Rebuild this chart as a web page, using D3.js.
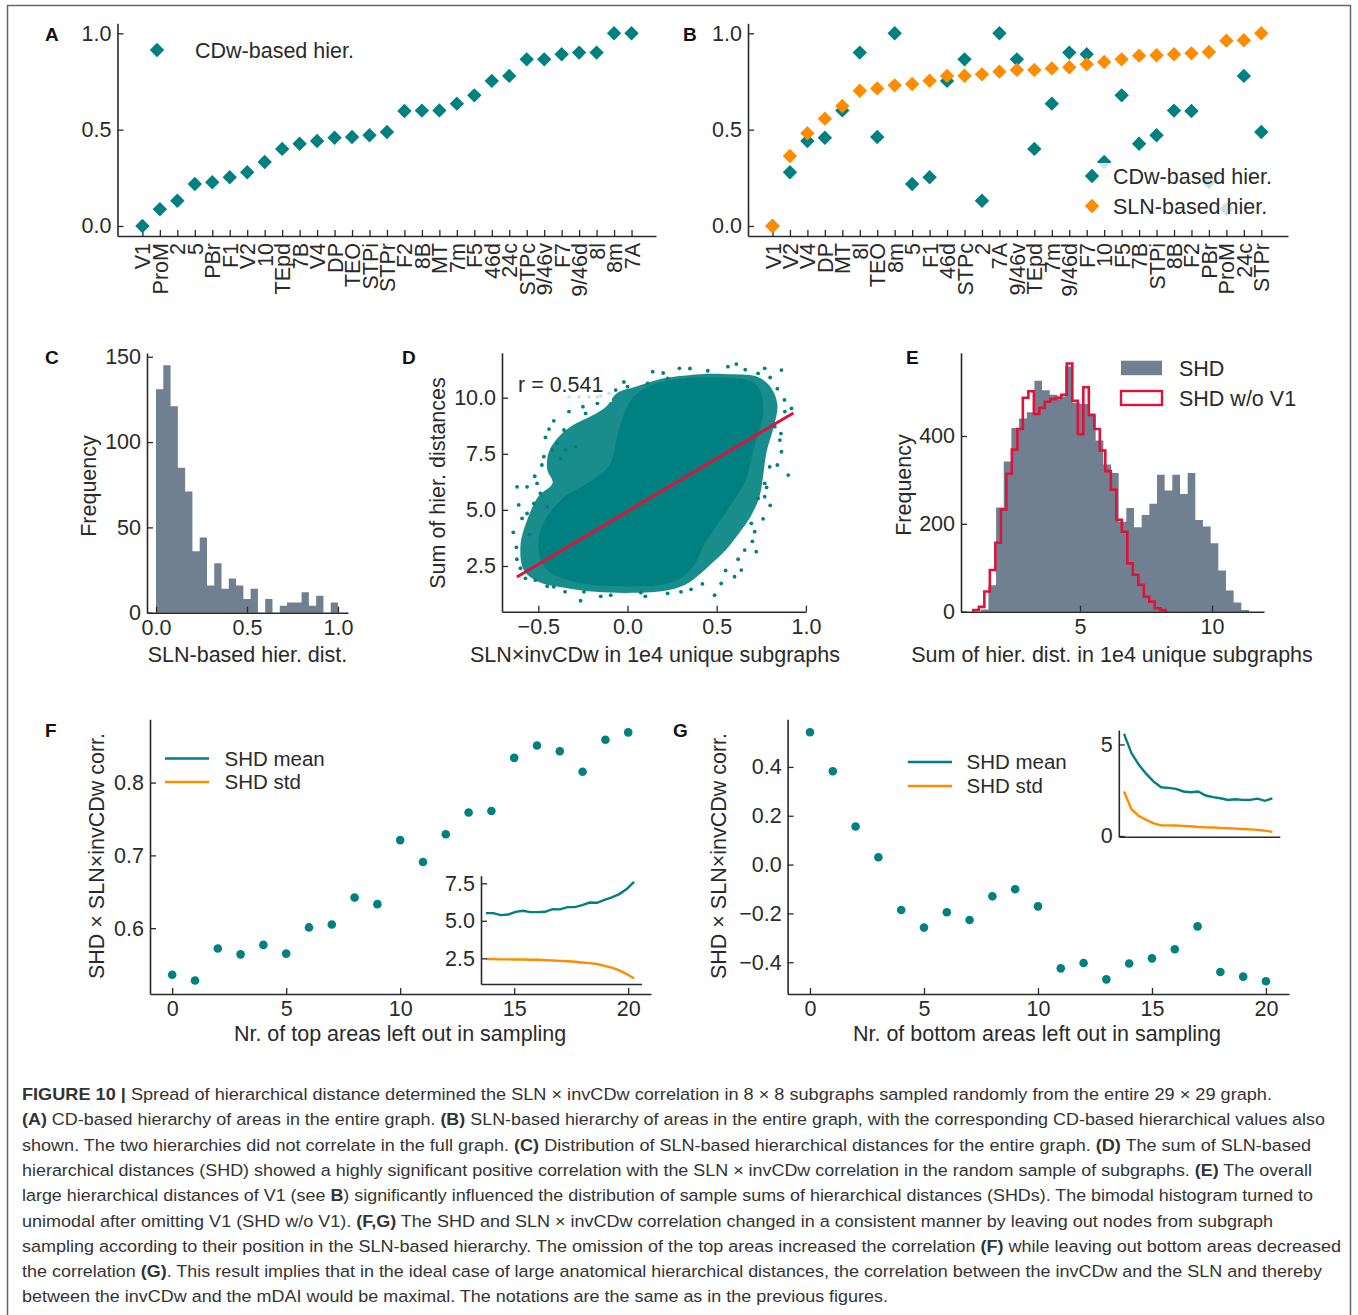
<!DOCTYPE html>
<html>
<head>
<meta charset="utf-8">
<script src="https://cdn.jsdelivr.net/npm/d3@7"></script>
<style>
  body { margin: 0; background: #fff; }
  svg { display: block; }
</style>
</head>
<body>
<div id="fig"></div>
<script>
// ---------- data ----------
// A: CD-based hierarchy, areas sorted
const areasA = ["V1","ProM","2","5","PBr","F1","V2","10","TEpd","7B","V4","DP","TEO","STPi","STPr",
  "F2","8B","MT","7m","F5","46d","24c","STPc","9/46v","F7","9/46d","8l","8m","7A"];
const cdwHier = [0, 0.087, 0.131, 0.218, 0.227, 0.253, 0.279, 0.332, 0.400, 0.427, 0.441, 0.458, 0.462,
  0.471, 0.488, 0.597, 0.599, 0.600, 0.635, 0.678, 0.753, 0.779, 0.865, 0.865, 0.891, 0.900, 0.900, 1.0, 1.0];

// B: SLN-based hierarchy, areas sorted by it
const areasB = ["V1","V2","V4","DP","MT","8l","TEO","8m","5","F1","46d","STPc","2","7A","9/46v","TEpd",
  "7m","9/46d","F7","10","F5","7B","STPi","8B","F2","PBr","ProM","24c","STPr"];
const slnHier = [0, 0.363, 0.481, 0.557, 0.623, 0.702, 0.714, 0.730, 0.737, 0.754, 0.779, 0.780, 0.787,
  0.801, 0.810, 0.810, 0.818, 0.824, 0.839, 0.851, 0.865, 0.884, 0.886, 0.891, 0.896, 0.903, 0.962, 0.964, 1.0];

// C: histogram of SLN-based distances (25 bins)
const slnDistRange = [0, 1.0];
const slnDistCounts = [131, 145, 121, 85, 71, 36, 44, 16, 29, 14, 20, 16, 8, 14, 0, 8, 0, 4, 6, 6, 12, 4, 10, 0, 6];

// D: 1e4 points -> outline of the cloud, its dense core, and the loose points around it
const cloudOuter = [[-0.60,3.4],[-0.58,2.3],[-0.50,1.8],[-0.33,1.5],[-0.18,1.35],[0.0,1.3],[0.2,1.38],
  [0.32,1.65],[0.40,2.1],[0.47,2.6],[0.55,3.2],[0.62,3.9],[0.69,4.7],[0.74,5.6],[0.76,6.5],[0.78,7.6],
  [0.82,8.7],[0.84,9.7],[0.80,10.5],[0.72,10.95],[0.56,11.05],[0.41,11.05],[0.28,10.95],[0.17,10.8],
  [0.05,10.5],[-0.06,10.2],[-0.12,9.6],[-0.2,9.2],[-0.3,8.8],[-0.38,8.3],[-0.44,7.6],[-0.45,6.8],
  [-0.42,6.2],[-0.5,5.6],[-0.56,4.6]];
const cloudCore = [[-0.50,3.6],[-0.46,2.4],[-0.30,1.8],[0.0,1.6],[0.24,1.75],[0.36,2.4],[0.44,3.6],
  [0.56,5.0],[0.66,6.3],[0.71,7.8],[0.76,9.4],[0.72,10.6],[0.45,10.9],[0.15,10.6],[0.02,9.9],[-0.05,8.5],
  [-0.1,7.0],[-0.22,6.2],[-0.35,5.6],[-0.45,4.7]];
const cloudLoose = [[0.141,11.16],[0.610,11.50],[0.563,11.38],[0.769,11.31],[0.863,11.23],[0.732,11.08],
  [0.291,11.31],[0.225,10.86],[0.113,10.64],[0.0,10.49],[-0.066,10.34],[-0.169,10.04],[-0.169,9.75],
  [-0.235,9.30],[-0.328,9.38],[-0.413,8.97],[-0.356,8.56],[-0.460,8.23],[-0.394,7.96],[-0.347,7.67],
  [-0.469,7.37],[-0.375,7.30],[-0.291,7.82],[-0.422,7.67],[-0.507,6.18],[-0.563,6.03],[-0.619,6.03],
  [-0.610,5.22],[-0.563,4.84],[-0.591,4.62],[-0.488,5.74],[-0.450,5.14],[-0.525,5.29],[-0.623,3.33],
  [-0.572,1.95],[-0.516,1.87],[-0.413,1.57],[-0.263,0.95],[-0.244,1.35],[-0.094,1.20],[0.075,1.31],
  [0.225,1.28],[0.356,1.46],[0.488,1.20],[0.525,1.72],[0.600,2.02],[0.638,2.32],[0.722,3.14],[0.657,3.21],
  [0.713,4.03],[0.694,4.40],[0.732,5.51],[0.769,6.18],[0.797,6.92],[0.863,7.59],[0.901,6.55],[0.854,8.11],
  [0.919,9.52],[0.882,9.38],[0.826,8.71],[0.769,5.59],[-0.328,10.04],[-0.272,10.04],[-0.216,10.04],
  [-0.150,10.07],[-0.103,10.19],[-0.45,1.6],[-0.35,1.35],[-0.15,1.15],[0.1,1.15],[0.3,1.35],[0.42,1.7],
  [0.55,2.3],[0.62,2.8],[0.7,3.6],[0.76,4.6],[0.8,5.2],[0.78,6.0],[0.84,7.0],[0.86,8.4],[0.88,9.9],
  [0.84,10.4],[0.8,10.9],[0.66,11.25],[0.45,11.2],[0.35,11.3],[0.2,11.1],[-0.02,10.7],[-0.62,2.8],
  [-0.64,4.0],[-0.55,3.9],[-0.6,2.4],[-0.52,6.5],[-0.48,7.0],[-0.44,8.6],[-0.25,9.6]];
const fitX = [-0.62, 0.93];
const fitY = [2.01, 9.32];
const corrLabel = "r = 0.541";

// E: histograms of summed distances (35 bins each)
const shdRange = [1.24, 11.40];
const shdCounts = [5, 60, 237, 342, 418, 440, 454, 526, 504, 494, 490, 558, 475, 473, 448, 390, 335, 316,
  205, 236, 192, 220, 246, 312, 276, 312, 268, 316, 209, 194, 156, 94, 48, 21, 4];
const shdNoV1Range = [0.96, 8.25];
const shdNoV1Counts = [4, 11, 46, 95, 157, 233, 314, 369, 416, 487, 502, 450, 464, 478, 484, 487, 494, 565,
  480, 404, 511, 448, 416, 367, 320, 278, 209, 182, 110, 84, 61, 34, 23, 8, 4];

// F, G: number of areas left out
const leftOut = [0,1,2,3,4,5,6,7,8,9,10,11,12,13,14,15,16,17,18,19,20];
const corrTop = [0.536, 0.528, 0.572, 0.564, 0.577, 0.565, 0.601, 0.605, 0.642, 0.633, 0.721, 0.691, 0.729,
  0.759, 0.761, 0.834, 0.851, 0.843, 0.815, 0.859, 0.869];
const meanTop = [5.51, 5.51, 5.38, 5.42, 5.60, 5.67, 5.58, 5.58, 5.60, 5.78, 5.76, 5.91, 5.91, 6.05, 6.22,
  6.20, 6.40, 6.56, 6.78, 7.12, 7.60];
const stdTop = [2.45, 2.45, 2.43, 2.43, 2.42, 2.42, 2.40, 2.40, 2.38, 2.35, 2.33, 2.30, 2.27, 2.22, 2.18,
  2.12, 2.00, 1.88, 1.70, 1.45, 1.15];
const corrBottom = [0.542, 0.382, 0.156, 0.030, -0.186, -0.258, -0.195, -0.227, -0.130, -0.101, -0.171,
  -0.425, -0.403, -0.470, -0.405, -0.384, -0.347, -0.253, -0.440, -0.459, -0.478];
const meanBottom = [5.58, 4.53, 3.89, 3.39, 2.97, 2.66, 2.63, 2.57, 2.43, 2.39, 2.43, 2.21, 2.12, 2.06, 1.97,
  2.01, 1.97, 1.97, 2.04, 1.92, 2.06];
const stdBottom = [2.43, 1.46, 1.09, 0.88, 0.69, 0.58, 0.58, 0.57, 0.55, 0.53, 0.49, 0.47, 0.46, 0.44, 0.42,
  0.40, 0.38, 0.36, 0.33, 0.29, 0.22];

// tick labels
const hierTicks = [0, 0.5, 1.0];
const cxTicks = [0, 0.5, 1.0], cyTicks = [0, 50, 100, 150];
const dxTicks = [-0.5, 0, 0.5, 1.0], dyTicks = [2.5, 5.0, 7.5, 10.0];
const exTicks = [5, 10], eyTicks = [0, 200, 400];
const nTicks = [0, 5, 10, 15, 20];
const fyTicks = [0.6, 0.7, 0.8], fInsetTicks = [2.5, 5.0, 7.5];
const gyTicks = [-0.4, -0.2, 0.0, 0.2, 0.4], gInsetTicks = [0, 5];

// caption
const captionLines = [
  [["FIGURE 10 |", 1], [" Spread of hierarchical distance determined the SLN × invCDw correlation in 8 × 8 subgraphs sampled randomly from the entire 29 × 29 graph.", 0]],
  [["(A)", 1], [" CD-based hierarchy of areas in the entire graph. ", 0], ["(B)", 1], [" SLN-based hierarchy of areas in the entire graph, with the corresponding CD-based hierarchical values also", 0]],
  [["shown. The two hierarchies did not correlate in the full graph. ", 0], ["(C)", 1], [" Distribution of SLN-based hierarchical distances for the entire graph. ", 0], ["(D)", 1], [" The sum of SLN-based", 0]],
  [["hierarchical distances (SHD) showed a highly significant positive correlation with the SLN × invCDw correlation in the random sample of subgraphs. ", 0], ["(E)", 1], [" The overall", 0]],
  [["large hierarchical distances of V1 (see ", 0], ["B", 1], [") significantly influenced the distribution of sample sums of hierarchical distances (SHDs). The bimodal histogram turned to", 0]],
  [["unimodal after omitting V1 (SHD w/o V1). ", 0], ["(F,G)", 1], [" The SHD and SLN × invCDw correlation changed in a consistent manner by leaving out nodes from subgraph", 0]],
  [["sampling according to their position in the SLN-based hierarchy. The omission of the top areas increased the correlation ", 0], ["(F)", 1], [" while leaving out bottom areas decreased", 0]],
  [["the correlation ", 0], ["(G)", 1], [". This result implies that in the ideal case of large anatomical hierarchical distances, the correlation between the invCDw and the SLN and thereby", 0]],
  [["between the invCDw and the mDAI would be maximal. The notations are the same as in the previous figures.", 0]]
];

// ---------- layout / style ----------
const FONT = "'Liberation Sans', Arial, Helvetica, sans-serif";
const TEAL = "#008080", ORANGE = "#ff8c00", SLATE = "#708090", CRIMSON = "#dc143c", INK = "#2a2a2a";
const FS = 21.5;
const captionWidths = [1250, 1303, 1289, 1290, 1291, 1251, 1319, 1300, 866];

const svg = d3.select("#fig").append("svg")
  .attr("width", 1358).attr("height", 1315)
  .attr("font-family", FONT);

svg.append("rect").attr("width", 1358).attr("height", 1315).attr("fill", "#fff");
svg.append("rect").attr("x", 7.5).attr("y", 5.5).attr("width", 1343).attr("height", 1330)
  .attr("fill", "none").attr("stroke", "#666").attr("stroke-width", 1.5);

function panel(box, xd, yd) {
  return {
    box,
    x: d3.scaleLinear().domain(xd).range([box.l, box.r]),
    y: d3.scaleLinear().domain(yd).range([box.b, box.t]),
  };
}

function styleAxis(g) {
  g.attr("font-family", FONT).attr("font-size", FS);
  g.select(".domain").attr("stroke", INK).attr("stroke-width", 1.6);
  g.selectAll(".tick line").attr("stroke", INK).attr("stroke-width", 1.3);
  g.selectAll(".tick text").attr("fill", INK);
  return g;
}

function xAxis(p, ticks, fmt) {
  const ax = d3.axisBottom(p.x).tickValues(ticks).tickSizeInner(-6).tickSizeOuter(0).tickPadding(7);
  if (fmt) ax.tickFormat(fmt);
  return styleAxis(svg.append("g").attr("transform", `translate(0,${p.box.b})`).call(ax));
}

function yAxis(p, ticks, fmt) {
  const ax = d3.axisLeft(p.y).tickValues(ticks).tickSizeInner(-6).tickSizeOuter(0).tickPadding(6);
  if (fmt) ax.tickFormat(fmt);
  return styleAxis(svg.append("g").attr("transform", `translate(${p.box.l},0)`).call(ax));
}

function panelLabel(x, y, s) {
  svg.append("text").attr("x", x).attr("y", y).attr("font-weight", "bold")
    .attr("font-size", 19).attr("fill", "#111").text(s);
}

function xLabel(cx, y, s) {
  svg.append("text").attr("x", cx).attr("y", y).attr("text-anchor", "middle")
    .attr("font-size", FS).attr("fill", INK).text(s);
}

function yLabel(cx, cy, s) {
  svg.append("text").attr("transform", `translate(${cx},${cy}) rotate(-90)`)
    .attr("dy", "0.35em").attr("text-anchor", "middle")
    .attr("font-size", FS).attr("fill", INK).text(s);
}

const diamond = (r) => `M0,${-r}L${r},0L0,${r}L${-r},0Z`;
const f1 = d3.format(".1f");
const fInt = d3.format("d");

// step path for a histogram: filled (closed) or outline
function histPath(p, range, counts) {
  const w = (range[1] - range[0]) / counts.length;
  let d = `M${p.x(range[0])},${p.y(0)}`;
  counts.forEach((c, i) => {
    d += `V${p.y(c)}H${p.x(range[0] + (i + 1) * w)}`;
  });
  return d + `V${p.y(0)}`;
}

// ---------- A ----------
const pA = panel({ l: 117.5, r: 656, t: 23.3, b: 236 }, [-1.425, 29.4], [-0.052, 1.052]);
function categoryAxis(p, names) {
  const g = xAxis(p, d3.range(names.length), (i) => names[i]);
  g.selectAll(".tick text")
    .attr("x", 0).attr("y", 0).attr("dy", "0.35em")
    .attr("transform", "translate(0,7) rotate(-90)")
    .attr("text-anchor", "end");
}
categoryAxis(pA, areasA);
yAxis(pA, hierTicks, f1);

svg.append("g").selectAll("path").data(cdwHier).join("path")
  .attr("d", diamond(7.2))
  .attr("transform", (d, i) => `translate(${pA.x(i)},${pA.y(d)})`)
  .attr("fill", TEAL);

svg.append("path").attr("d", diamond(7.2)).attr("transform", "translate(157,50)").attr("fill", TEAL);
svg.append("text").attr("x", 195).attr("y", 50).attr("dy", "0.35em")
  .attr("font-size", FS).attr("fill", INK).text("CDw-based hier.");
panelLabel(45, 41, "A");

// ---------- B ----------
const pB = panel({ l: 748, r: 1288, t: 23.3, b: 236 }, [-1.403, 29.53], [-0.052, 1.052]);
categoryAxis(pB, areasB);
yAxis(pB, hierTicks, f1);

const cdwByArea = new Map(areasA.map((a, i) => [a, cdwHier[i]]));
svg.append("g").selectAll("path").data(areasB).join("path")
  .attr("d", diamond(7.2))
  .attr("transform", (a, i) => `translate(${pB.x(i)},${pB.y(cdwByArea.get(a))})`)
  .attr("fill", TEAL);
svg.append("g").selectAll("path").data(slnHier).join("path")
  .attr("d", diamond(7.2))
  .attr("transform", (d, i) => `translate(${pB.x(i)},${pB.y(d)})`)
  .attr("fill", ORANGE);

// legend (semi-transparent box like the original)
svg.append("rect").attr("x", 1080).attr("y", 163).attr("width", 196).attr("height", 58)
  .attr("fill", "#fff").attr("opacity", 0.8);
[["CDw-based hier.", TEAL, 176], ["SLN-based hier.", ORANGE, 206]].forEach(([s, c, y]) => {
  svg.append("path").attr("d", diamond(7.2)).attr("transform", `translate(1092,${y})`).attr("fill", c);
  svg.append("text").attr("x", 1113).attr("y", y).attr("dy", "0.35em")
    .attr("font-size", FS).attr("fill", INK).text(s);
});
panelLabel(683, 41, "B");

// ---------- C ----------
const pC = panel({ l: 147, r: 348, t: 353, b: 612.7 }, [-0.0495, 1.055], [0, 152.2]);
svg.append("path").attr("d", histPath(pC, slnDistRange, slnDistCounts) + "Z").attr("fill", SLATE);
xAxis(pC, cxTicks, f1);
yAxis(pC, cyTicks);
yLabel(88, 486, "Frequency");
xLabel(247.5, 662, "SLN-based hier. dist.");
panelLabel(45, 364, "C");

// ---------- D ----------
const pD = panel({ l: 502, r: 806, t: 352.7, b: 611.7 }, [-0.7035, 1.0006], [0.463, 12.005]);
const blob = d3.line().x((d) => pD.x(d[0])).y((d) => pD.y(d[1])).curve(d3.curveCatmullRomClosed.alpha(0.5));
svg.append("path").attr("d", blob(cloudOuter)).attr("fill", TEAL).attr("opacity", 0.9);
svg.append("path").attr("d", blob(cloudCore)).attr("fill", TEAL);
svg.append("g").selectAll("circle").data(cloudLoose).join("circle")
  .attr("cx", (d) => pD.x(d[0])).attr("cy", (d) => pD.y(d[1])).attr("r", 1.9).attr("fill", TEAL);
svg.append("line")
  .attr("x1", pD.x(fitX[0])).attr("y1", pD.y(fitY[0]))
  .attr("x2", pD.x(fitX[1])).attr("y2", pD.y(fitY[1]))
  .attr("stroke", CRIMSON).attr("stroke-width", 3);
svg.append("rect").attr("x", 512).attr("y", 369).attr("width", 100).attr("height", 33)
  .attr("fill", "#fff").attr("opacity", 0.8);
svg.append("text").attr("x", 518).attr("y", 384).attr("dy", "0.35em")
  .attr("font-size", FS).attr("fill", INK).text(corrLabel);
xAxis(pD, dxTicks, f1);
yAxis(pD, dyTicks, f1);
yLabel(437, 483, "Sum of hier. distances");
xLabel(655, 662, "SLN×invCDw in 1e4 unique subgraphs");
panelLabel(402, 364, "D");

// ---------- E ----------
const pE = panel({ l: 961, r: 1264, t: 352.7, b: 611.7 }, [0.492, 11.97], [0, 589.6]);
svg.append("path").attr("d", histPath(pE, shdRange, shdCounts) + "Z").attr("fill", SLATE);
svg.append("path").attr("d", histPath(pE, shdNoV1Range, shdNoV1Counts))
  .attr("fill", "none").attr("stroke", CRIMSON).attr("stroke-width", 2.6).attr("stroke-linejoin", "miter");
xAxis(pE, exTicks);
yAxis(pE, eyTicks);
svg.append("rect").attr("x", 1121).attr("y", 360.7).attr("width", 41).attr("height", 14.5).attr("fill", SLATE);
svg.append("rect").attr("x", 1121).attr("y", 391).attr("width", 41).attr("height", 14)
  .attr("fill", "none").attr("stroke", CRIMSON).attr("stroke-width", 2.4);
svg.append("text").attr("x", 1179).attr("y", 368).attr("dy", "0.35em").attr("font-size", FS).attr("fill", INK).text("SHD");
svg.append("text").attr("x", 1179).attr("y", 398).attr("dy", "0.35em").attr("font-size", FS).attr("fill", INK).text("SHD w/o V1");
yLabel(903, 485, "Frequency");
xLabel(1112, 662, "Sum of hier. dist. in 1e4 unique subgraphs");
panelLabel(906, 364, "E");

// ---------- F / G ----------
function corrPanel(box, xd, yd, yTicks, corr) {
  const p = panel(box, xd, yd);
  xAxis(p, nTicks);
  yAxis(p, yTicks, f1);
  svg.append("g").selectAll("circle").data(corr).join("circle")
    .attr("cx", (d, i) => p.x(leftOut[i])).attr("cy", (d) => p.y(d))
    .attr("r", 4.3).attr("fill", TEAL);
  return p;
}

function inset(box, xd, yd, yTicks, fmt, mean, std) {
  const p = panel(box, xd, yd);
  const line = (vals) => d3.line().x((d, i) => p.x(leftOut[i])).y((d) => p.y(d))(vals);
  svg.append("path").attr("d", line(mean)).attr("fill", "none").attr("stroke", TEAL).attr("stroke-width", 2.4);
  svg.append("path").attr("d", line(std)).attr("fill", "none").attr("stroke", ORANGE).attr("stroke-width", 2.4);
  xAxis(p, []);
  yAxis(p, yTicks, fmt);
  return p;
}

function lineLegend(x0, x1, xt, y1, y2) {
  [["SHD mean", TEAL, y1], ["SHD std", ORANGE, y2]].forEach(([s, c, y]) => {
    svg.append("line").attr("x1", x0).attr("x2", x1).attr("y1", y).attr("y2", y)
      .attr("stroke", c).attr("stroke-width", 2.6);
    svg.append("text").attr("x", xt).attr("y", y).attr("dy", "0.35em")
      .attr("font-size", 20.5).attr("fill", INK).text(s);
  });
}

corrPanel({ l: 150, r: 651, t: 719.3, b: 994 }, [-0.973, 21.0], [0.5095, 0.887], fyTicks, corrTop);
inset({ l: 481, r: 641.5, t: 875.7, b: 984 }, [-0.673, 21.0], [0.787, 8.007], fInsetTicks, f1, meanTop, stdTop);
lineLegend(165, 209, 224.5, 758.5, 782);
yLabel(96, 856, "SHD × SLN×invCDw corr.");
xLabel(400, 1041, "Nr. of top areas left out in sampling");
panelLabel(45, 737, "F");

corrPanel({ l: 787.6, r: 1289, t: 719.3, b: 994 }, [-0.982, 21.01], [-0.53, 0.595], gyTicks, corrBottom);
inset({ l: 1118.8, r: 1279.8, t: 730, b: 836.7 }, [-0.705, 21.0], [-0.04, 5.79], gInsetTicks, fInt, meanBottom, stdBottom);
lineLegend(907.7, 952, 966.5, 762, 786);
yLabel(718, 856, "SHD × SLN×invCDw corr.");
xLabel(1037, 1041, "Nr. of bottom areas left out in sampling");
panelLabel(673, 737, "G");

// ---------- caption ----------
const cap = svg.append("g").attr("font-size", 16.3).attr("fill", "#333");
captionLines.forEach((segs, i) => {
  const t = cap.append("text").attr("x", 22).attr("y", 1100 + i * 25.3)
    .attr("textLength", captionWidths[i]).attr("lengthAdjust", "spacingAndGlyphs");
  segs.forEach(([s, b]) => t.append("tspan").attr("font-weight", b ? "bold" : null).text(s));
});
</script>
</body>
</html>
